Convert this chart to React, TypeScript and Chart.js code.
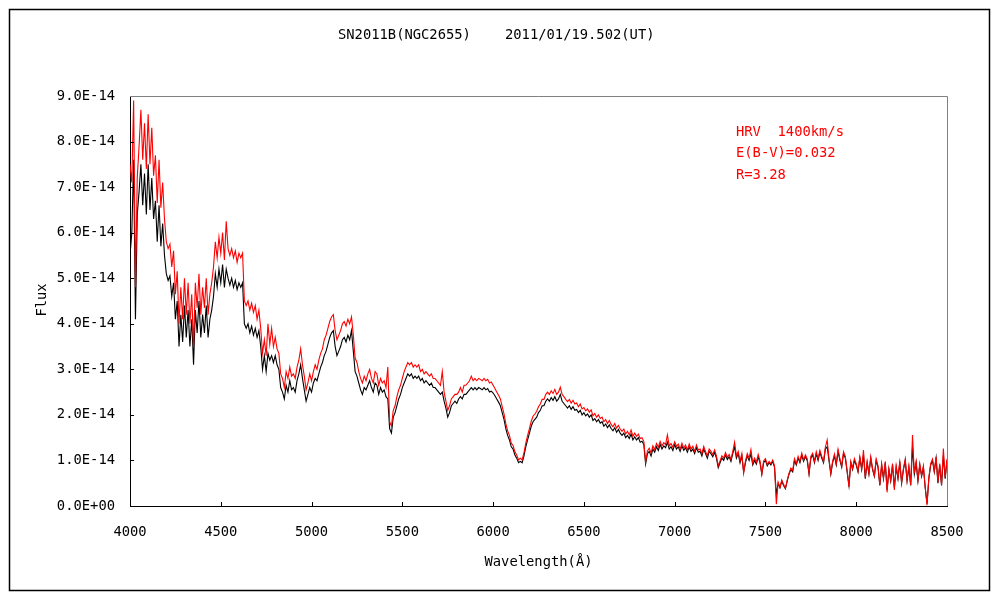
import { useEffect, useRef } from "react";
import { Chart, registerables } from "chart.js";

Chart.register(...registerables);

// ---------- data (flux in units of 1E-14), sampled every 10 Å from 4000 Å ----------
const WL_START = 4000;
const WL_STEP = 10;

const observedFlux: number[] = [
  5.5, 6.0, 7.6, 4.1, 6.4, 6.9, 7.5, 6.6, 7.3, 6.4,
  7.5, 6.5, 7.2, 6.3, 6.7, 5.8, 6.6, 5.7, 6.2, 5.5,
  5.1, 4.95, 5.05, 4.6, 4.9, 4.1, 4.5, 3.5, 4.2, 3.6,
  4.4, 3.7, 4.3, 3.5, 4.1, 3.1, 4.3, 3.8, 4.5, 3.7,
  4.2, 3.8, 4.4, 3.7, 4.1, 4.3, 4.6, 5.1, 4.8, 5.2,
  4.9, 5.3, 4.8, 5.2, 5.0, 4.85, 5.0, 4.8, 4.95, 4.75,
  4.9, 4.8, 4.9, 4.0, 3.9, 4.0, 3.8, 3.95, 3.75, 3.9,
  3.7, 3.85, 3.5, 3.0, 3.3, 2.95, 3.35, 3.2, 3.3, 3.15,
  3.3, 3.1, 3.0, 2.6, 2.5, 2.35, 2.65, 2.5, 2.75, 2.55,
  2.6, 2.5, 2.75, 2.9, 3.1, 2.8, 2.55, 2.3, 2.45, 2.6,
  2.5, 2.7, 2.8, 2.75, 2.9, 3.05, 3.15, 3.3, 3.4, 3.55,
  3.7, 3.8, 3.85, 3.5, 3.3, 3.4, 3.5, 3.65, 3.7, 3.6,
  3.75, 3.65, 3.85, 3.4, 2.95, 2.85, 2.7, 2.55, 2.45, 2.6,
  2.55, 2.65, 2.75, 2.6, 2.5, 2.7, 2.65, 2.45, 2.6, 2.5,
  2.55, 2.4, 2.35, 1.7, 1.6, 1.95, 2.05, 2.2, 2.35, 2.45,
  2.6, 2.7, 2.8, 2.9, 2.85, 2.9, 2.8, 2.85, 2.8, 2.85,
  2.75, 2.8, 2.7, 2.75, 2.7, 2.65, 2.7, 2.6, 2.6, 2.55,
  2.5, 2.45, 2.5, 2.3, 2.15, 1.95, 2.05, 2.2, 2.25, 2.3,
  2.25, 2.35, 2.4, 2.35, 2.45, 2.45, 2.5, 2.55, 2.6, 2.55,
  2.6, 2.55, 2.6, 2.58, 2.55, 2.6, 2.55, 2.58, 2.5, 2.52,
  2.48, 2.42, 2.35, 2.28, 2.2, 2.05, 1.9, 1.7, 1.55, 1.45,
  1.3, 1.25, 1.12, 1.05, 0.95, 0.98, 0.95, 1.1, 1.3, 1.45,
  1.6, 1.75, 1.85, 1.9, 1.95, 2.05, 2.1, 2.2, 2.2, 2.3,
  2.35, 2.3, 2.38, 2.32, 2.4, 2.3, 2.35, 2.45, 2.3, 2.25,
  2.2, 2.15, 2.2, 2.12, 2.18, 2.1, 2.12, 2.05, 2.1, 2.0,
  2.05, 1.98, 2.02, 1.95, 2.0, 1.88, 1.92, 1.85, 1.9, 1.82,
  1.85, 1.75, 1.8, 1.72, 1.78, 1.7, 1.65, 1.72, 1.62, 1.68,
  1.6, 1.55, 1.6, 1.5, 1.55, 1.48, 1.58, 1.45, 1.52, 1.45,
  1.5, 1.4, 1.42, 1.35, 0.92, 1.15, 1.2, 1.1, 1.25, 1.18,
  1.3, 1.22, 1.35, 1.25, 1.32, 1.28, 1.4, 1.25, 1.3, 1.22,
  1.35, 1.25, 1.3, 1.2, 1.32, 1.22, 1.28, 1.18, 1.3, 1.2,
  1.25, 1.15, 1.28, 1.18, 1.2, 1.1, 1.25, 1.15, 1.05, 1.2,
  1.15, 1.08, 1.18, 1.05, 0.84, 0.95, 1.05, 1.0, 1.12, 1.02,
  1.08, 0.98, 1.15, 1.3, 1.05, 1.15, 0.95, 1.1, 0.75, 0.95,
  1.1, 1.0, 1.15, 0.9, 1.0, 0.92, 1.08, 0.95, 0.7, 0.95,
  1.0, 0.88, 0.95, 0.9, 0.98, 0.85, 0.25, 0.5, 0.4, 0.55,
  0.45, 0.38, 0.55, 0.7, 0.8, 0.75, 1.0, 0.9, 1.05, 0.95,
  1.12, 0.98, 1.08, 1.0, 0.7, 1.05, 1.12, 0.95, 1.15, 1.0,
  1.18, 1.05, 0.95, 1.25, 1.3, 1.0, 0.7, 0.95, 1.1, 0.9,
  1.2, 1.0, 0.85, 1.15, 1.05, 0.75, 0.45, 0.95, 0.8, 1.0,
  0.9, 0.75, 1.05, 0.8, 1.12, 0.6, 0.95, 0.7, 1.05, 0.8,
  0.65, 1.0, 0.85, 0.45, 0.9, 0.6, 0.95, 0.35, 0.8, 0.55,
  0.9, 0.4, 0.85, 0.6, 0.95, 0.5, 0.8, 1.0, 0.55, 0.85,
  0.45, 1.3, 0.7, 0.95, 0.55, 0.9, 0.65, 0.85, 0.4, 0.05,
  0.6, 0.9, 1.0, 0.75, 1.05, 0.5, 0.9, 0.45, 1.1, 0.6,
  1.0,
];

const correctedFlux: number[] = [
  7.5, 7.1, 8.9, 4.8, 7.2, 7.9, 8.7, 7.6, 8.4, 7.4,
  8.6, 7.5, 8.3, 7.25, 7.7, 6.65, 7.6, 6.55, 7.1, 6.3,
  5.8, 5.65, 5.75, 5.25, 5.6, 4.65, 5.15, 4.0, 4.8, 4.1,
  5.0, 4.2, 4.9, 4.0, 4.65, 3.5, 4.9, 4.35, 5.1, 4.2,
  4.8, 4.35, 5.0, 4.2, 4.65, 4.9, 5.25, 5.8, 5.45, 5.9,
  5.55, 6.0, 5.4, 6.25, 5.65, 5.5, 5.65, 5.45, 5.6, 5.35,
  5.55, 5.45, 5.55, 4.5, 4.4, 4.5, 4.3, 4.45, 4.25, 4.4,
  4.1, 4.3, 3.9, 3.35, 3.65, 3.3, 4.0, 3.55, 3.9, 3.5,
  3.7, 3.45, 3.35, 2.9, 2.8, 2.6, 2.95, 2.8, 3.05, 2.85,
  2.9, 2.8, 3.05, 3.2, 3.45, 3.1, 2.85, 2.55, 2.7, 2.9,
  2.75, 2.95, 3.1, 3.0, 3.2, 3.35, 3.45, 3.65, 3.75, 3.9,
  4.05, 4.15, 4.2, 3.85, 3.65, 3.75, 3.85, 4.0, 4.05, 3.95,
  4.1, 4.0, 4.15, 3.75, 3.25, 3.15, 2.95, 2.8, 2.7, 2.85,
  2.75, 2.9, 3.0, 2.8, 2.7, 2.95, 2.9, 2.65, 2.8, 2.7,
  2.75, 2.6, 3.05, 1.85, 1.75, 2.1, 2.2, 2.4, 2.55, 2.65,
  2.8, 2.95, 3.05, 3.15, 3.1, 3.15, 3.05, 3.1, 3.05, 3.1,
  2.95, 3.0, 2.9, 2.95, 2.9, 2.85, 2.9, 2.8, 2.8, 2.75,
  2.7, 2.65, 2.95, 2.5, 2.3, 2.1, 2.2, 2.35, 2.4, 2.45,
  2.45, 2.5, 2.6, 2.5, 2.65, 2.65, 2.7, 2.75, 2.85, 2.75,
  2.8, 2.75, 2.8, 2.78, 2.75, 2.8, 2.75, 2.78, 2.7, 2.72,
  2.65, 2.58, 2.5, 2.43, 2.35, 2.18, 2.02, 1.81, 1.65, 1.55,
  1.38, 1.33, 1.19, 1.12, 1.01, 1.05, 1.01, 1.17, 1.38, 1.55,
  1.7, 1.86, 1.97, 2.02, 2.08, 2.18, 2.24, 2.34, 2.34, 2.45,
  2.5, 2.45, 2.53, 2.47, 2.56, 2.45, 2.5, 2.61, 2.45, 2.4,
  2.34, 2.29, 2.34, 2.26, 2.32, 2.24, 2.26, 2.18, 2.24, 2.13,
  2.16, 2.09, 2.13, 2.06, 2.11, 1.98, 2.03, 1.95, 2.0, 1.92,
  1.95, 1.85, 1.9, 1.81, 1.88, 1.79, 1.74, 1.81, 1.71, 1.77,
  1.69, 1.64, 1.69, 1.58, 1.64, 1.56, 1.67, 1.53, 1.6, 1.53,
  1.58, 1.48, 1.5, 1.42, 0.97, 1.21, 1.27, 1.16, 1.32, 1.24,
  1.37, 1.29, 1.42, 1.32, 1.39, 1.35, 1.56, 1.32, 1.37, 1.29,
  1.41, 1.31, 1.36, 1.25, 1.38, 1.27, 1.34, 1.23, 1.36, 1.25,
  1.31, 1.2, 1.34, 1.23, 1.25, 1.15, 1.31, 1.2, 1.1, 1.25,
  1.2, 1.13, 1.23, 1.1, 0.88, 0.99, 1.1, 1.05, 1.17, 1.07,
  1.13, 1.02, 1.2, 1.4, 1.1, 1.2, 0.99, 1.15, 0.72, 0.99,
  1.15, 1.05, 1.24, 0.94, 1.05, 0.96, 1.13, 0.99, 0.7, 0.99,
  1.04, 0.91, 0.98, 0.93, 1.01, 0.88, 0.04, 0.52, 0.41, 0.57,
  0.47, 0.39, 0.57, 0.72, 0.83, 0.78, 1.04, 0.93, 1.09, 0.98,
  1.16, 1.01, 1.12, 1.04, 0.72, 1.09, 1.16, 0.98, 1.19, 1.04,
  1.22, 1.09, 0.98, 1.29, 1.45, 1.04, 0.72, 0.98, 1.14, 0.93,
  1.24, 1.04, 0.88, 1.19, 1.09, 0.78, 0.42, 0.98, 0.83, 1.04,
  0.93, 0.77, 1.08, 0.82, 1.23, 0.62, 0.98, 0.72, 1.08, 0.82,
  0.67, 1.03, 0.88, 0.46, 0.93, 0.62, 0.98, 0.3, 0.82, 0.57,
  0.93, 0.35, 0.88, 0.62, 0.98, 0.52, 0.82, 1.03, 0.57, 0.88,
  0.46, 1.56, 0.72, 0.98, 0.57, 0.93, 0.67, 0.88, 0.41, 0.02,
  0.62, 0.93, 1.03, 0.77, 1.08, 0.52, 0.93, 0.46, 1.26, 0.62,
  1.03,
];

const wavelengths: number[] = observedFlux.map((_, i) => WL_START + WL_STEP * i);

const X_MIN = 4000;
const X_MAX = 8500;
const X_STEP = 500;
const Y_MIN = 0;
const Y_MAX = 9;
const Y_STEP = 1;

const TITLE_LEFT = "SN2011B(NGC2655)";
const TITLE_RIGHT = "2011/01/19.502(UT)";
const X_TITLE = "Wavelength(Å)";
const Y_TITLE = "Flux";
const NOTES = ["HRV  1400km/s", "E(B-V)=0.032", "R=3.28"];

const FONT_FAMILY = '"DejaVu Sans Mono", "Liberation Mono", monospace';
const FONT_SIZE = 13.8;

const yLabel = (v: number) => (v === 0 ? "0.0E+00" : `${v.toFixed(1)}E-14`);

const decorPlugin = {
  id: "decor",
  beforeDraw(chart: any) {
    const { ctx, width, height } = chart;
    ctx.save();
    ctx.fillStyle = "#fff";
    ctx.fillRect(0, 0, width, height);
    ctx.restore();
  },
  afterDraw(chart: any) {
    const { ctx, chartArea: a, scales } = chart;
    ctx.save();
    // outer frame
    ctx.strokeStyle = "#000";
    ctx.lineWidth = 1.5;
    ctx.strokeRect(9.5, 9.5, 980, 581);

    // gray top/right borders of plot area
    ctx.strokeStyle = "#808080";
    ctx.lineWidth = 1;
    ctx.beginPath();
    ctx.moveTo(a.left, Math.round(a.top) + 0.5);
    ctx.lineTo(Math.round(a.right) + 0.5, Math.round(a.top) + 0.5);
    ctx.lineTo(Math.round(a.right) + 0.5, a.bottom);
    ctx.stroke();

    // inside tick marks
    ctx.strokeStyle = "#000";
    ctx.lineWidth = 1;
    ctx.beginPath();
    for (let v = X_MIN + X_STEP; v < X_MAX; v += X_STEP) {
      const px = Math.round(scales.x.getPixelForValue(v)) + 0.5;
      ctx.moveTo(px, a.bottom);
      ctx.lineTo(px, a.bottom - 4);
    }
    for (let v = Y_MIN + Y_STEP; v < Y_MAX; v += Y_STEP) {
      const py = Math.round(scales.y.getPixelForValue(v)) + 0.5;
      ctx.moveTo(a.left, py);
      ctx.lineTo(a.left + 4, py);
    }
    ctx.stroke();

    // texts
    ctx.font = `${FONT_SIZE}px ${FONT_FAMILY}`;
    ctx.fillStyle = "#000";
    ctx.textBaseline = "middle";
    ctx.textAlign = "left";
    ctx.fillText(TITLE_LEFT, 338, 35);
    ctx.fillText(TITLE_RIGHT, 505, 35);

    ctx.textAlign = "center";
    ctx.fillText(X_TITLE, (a.left + a.right) / 2, 562);

    ctx.save();
    ctx.translate(42, 300);
    ctx.rotate(-Math.PI / 2);
    ctx.fillText(Y_TITLE, 0, 0);
    ctx.restore();

    ctx.fillStyle = "#ff0000";
    ctx.textAlign = "left";
    NOTES.forEach((t, i) => ctx.fillText(t, 736, 132 + i * 21.5));
    ctx.restore();
  },
};

export default function App() {
  const ref = useRef<HTMLCanvasElement>(null);

  useEffect(() => {
    const canvas = ref.current;
    if (!canvas) return;
    const observed = wavelengths.map((x, i) => ({ x, y: observedFlux[i] }));
    const corrected = wavelengths.map((x, i) => ({ x, y: correctedFlux[i] }));
    const chart = new Chart(canvas, {
      type: "line",
      data: {
        datasets: [
          {
            label: "corrected",
            data: corrected,
            borderColor: "#ff0000",
            borderWidth: 1.1,
            pointRadius: 0,
            tension: 0,
            order: 0,
          },
          {
            label: "observed",
            data: observed,
            borderColor: "#000000",
            borderWidth: 1.1,
            pointRadius: 0,
            tension: 0,
            order: 1,
          },
        ],
      },
      plugins: [decorPlugin],
      options: {
        responsive: false,
        animation: false,
        devicePixelRatio: 1,
        layout: { padding: { top: 96, right: 53, left: 0, bottom: 0 } },
        plugins: {
          legend: { display: false },
          tooltip: { enabled: false },
          title: { display: false },
        },
        scales: {
          x: {
            type: "linear",
            min: X_MIN,
            max: X_MAX,
            grid: { drawOnChartArea: false, drawTicks: false },
            border: { color: "#000", width: 1 },
            ticks: {
              stepSize: X_STEP,
              autoSkip: false,
              maxRotation: 0,
              padding: 18,
              color: "#000",
              font: { family: FONT_FAMILY, size: FONT_SIZE },
              callback: (v: any) => String(v),
            },
            afterFit: (s: any) => {
              s.height = 94;
            },
          },
          y: {
            type: "linear",
            min: Y_MIN,
            max: Y_MAX,
            grid: { drawOnChartArea: false, drawTicks: false },
            border: { color: "#000", width: 1 },
            ticks: {
              stepSize: Y_STEP,
              padding: 15,
              color: "#000",
              font: { family: FONT_FAMILY, size: FONT_SIZE },
              callback: (v: any) => yLabel(Number(v)),
            },
            afterFit: (s: any) => {
              s.width = 130;
            },
          },
        },
      },
    } as any);
    return () => chart.destroy();
  }, []);

  return (
    <div style={{ position: "absolute", left: 0, top: 0, width: 1000, height: 600, background: "#fff" }}>
      <canvas ref={ref} width={1000} height={600} style={{ display: "block", width: 1000, height: 600 }} />
    </div>
  );
}
